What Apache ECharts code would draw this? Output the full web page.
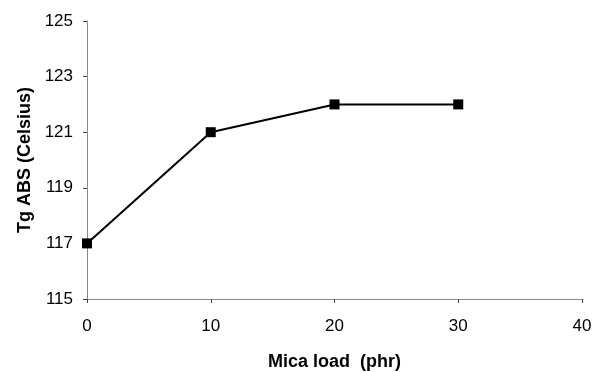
<!DOCTYPE html>
<html>
<head>
<meta charset="utf-8">
<script src="https://cdn.jsdelivr.net/npm/echarts@6/dist/echarts.min.js"></script>
<style>
  html, body { margin: 0; padding: 0; background: #fff; }
  #main { width: 603px; height: 372px; }
</style>
</head>
<body>
<div id="main"></div>
<script>
// mica load (phr) vs Tg of ABS
const micaLoad = [0, 10, 20, 30]
const tgValues = [117, 121, 122, 122]

const chart = echarts.init(document.getElementById('main'), null, { renderer: 'canvas' })

const font = 'Arial, "Liberation Sans", sans-serif'
const axisGrey = '#8a8a8a'

const option = {
  animation: false,
  backgroundColor: '#fff',
  grid: { left: 87, right: 21, top: 21, bottom: 73, outerBoundsMode: 'none', containLabel: false },
  xAxis: {
    type: 'value',
    min: 0,
    max: 40,
    interval: 10,
    name: 'Mica load  (phr)',
    nameLocation: 'middle',
    nameGap: 54,
    nameTextStyle: { fontFamily: font, fontWeight: 'bold', fontSize: 18, color: '#000' },
    axisLine: { show: true, onZero: false, lineStyle: { color: axisGrey, width: 1 } },
    axisTick: { show: true, length: 4, inside: false, lineStyle: { color: '#444' } },
    axisLabel: { fontFamily: font, fontSize: 17, color: '#000', margin: 19 },
    splitLine: { show: false }
  },
  yAxis: {
    type: 'value',
    min: 115,
    max: 125,
    interval: 2,
    name: 'Tg ABS (Celsius)',
    nameLocation: 'middle',
    nameGap: 53,
    nameTextStyle: { fontFamily: font, fontWeight: 'bold', fontSize: 18, color: '#000' },
    axisLine: { show: true, lineStyle: { color: axisGrey, width: 1 } },
    axisTick: { show: true, length: 4, lineStyle: { color: '#444' } },
    axisLabel: { fontFamily: font, fontSize: 17, color: '#000', margin: 14 },
    splitLine: { show: false }
  },
  series: [{
    type: 'line',
    data: micaLoad.map((x, i) => [x, tgValues[i]]),
    symbol: 'rect',
    symbolSize: 10,
    lineStyle: { color: '#000', width: 2 },
    itemStyle: { color: '#000' }
  }]
}

chart.setOption(option)
</script>
</body>
</html>
